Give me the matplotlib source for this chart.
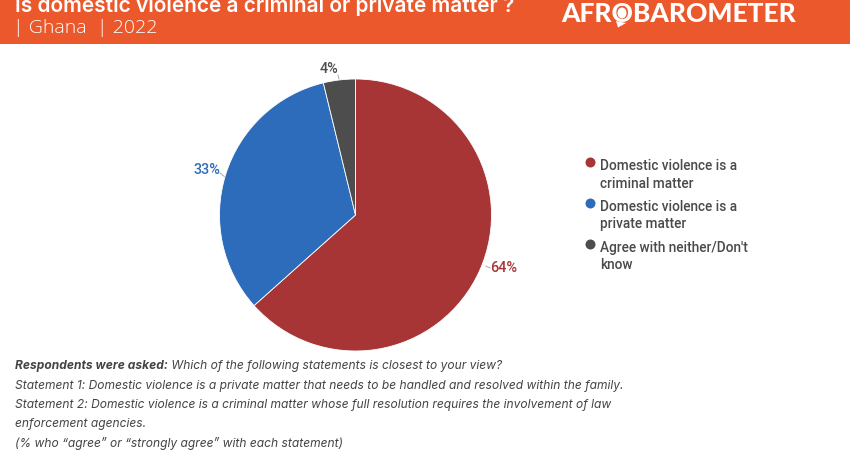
import matplotlib
matplotlib.use("Agg")
import matplotlib.pyplot as plt
from matplotlib.patches import Rectangle, Polygon, Ellipse

categories = ["Domestic violence is a\ncriminal matter",
              "Domestic violence is a\nprivate matter",
              "Agree with neither/Don't\nknow"]
values = [63.4, 32.8, 3.8]
labels = ["64%", "33%", "4%"]
colors = ["#A73535", "#2D6CBA", "#4D4D4D"]
title = "Is domestic violence a criminal or private matter ?"
subtitle = "| Ghana  | 2022"
brand = "AFROBAROMETER"
notes = ["Statement 1: Domestic violence is a private matter that needs to be handled and resolved within the family.",
         "Statement 2: Domestic violence is a criminal matter whose full resolution requires the involvement of law",
         "enforcement agencies.",
         "(% who “agree” or “strongly agree” with each statement)"]
note_head = "Respondents were asked:"
note_q = " Which of the following statements is closest to your view?"

W, H = 850, 450
fig = plt.figure(figsize=(W/100, H/100), dpi=100, facecolor="white")
bg = fig.add_axes([0, 0, 1, 1])
bg.set_xlim(0, W); bg.set_ylim(H, 0); bg.axis("off")

bg.add_patch(Rectangle((0, 0), W, 44, color="#EB582C", lw=0))
bg.text(15, 11.5, title, color="white", fontsize=15, fontweight="semibold", family="Inter", va="baseline")
bg.text(13.5, 28, subtitle, color="white", fontsize=14, family="Open Sans", fontweight="light", va="center")
bg.text(561, 14, brand, color="white", fontsize=19, fontweight="black", family="Lato", va="center")
# Pin shape of the logo's O
bg.add_patch(Polygon([(616, 21), (626, 23), (618, 27.5)], closed=True, color="white", lw=0))
bg.add_patch(Ellipse((622, 13), 9, 11, color="white", lw=0))

cx, cy, r = 355.5, 215, 136
ax = fig.add_axes([(cx-r-4)/W, 1-(cy+r+4)/H, (2*r+8)/W, (2*r+8)/H])
wedges, _ = ax.pie(values, colors=colors, startangle=90, counterclock=False, radius=1,
                   wedgeprops=dict(edgecolor="white", linewidth=0.6))
k = (r+4)/r
ax.set_xlim(-k, k); ax.set_ylim(-k, k); ax.set_aspect("equal")

label_pos = [(490, 268, "left"), (220, 169.5, "right"), (338, 69, "right")]
leaders = [((486, 266), (490, 268)), ((225, 177), (220, 173)), ((339, 79), (338, 75))]
for lab, c, (x, y, ha), (p, q) in zip(labels, colors, label_pos, leaders):
    bg.text(x, y, lab, color=c, fontsize=10.4, family="Roboto", fontweight="medium", ha=ha, va="center")
    bg.plot([p[0], q[0]], [p[1], q[1]], color="#AAAAAA", lw=0.7, zorder=5)

ly = [162, 203, 244]
ty = [175, 215.5, 256.5]
for c, cat, y, t in zip(colors, categories, ly, ty):
    bg.plot([590], [y], "o", color=c, ms=7.2, mew=0)
    bg.text(600, t, cat, color="#4A4A4A", fontsize=9.85, family="Roboto", fontweight="medium",
            va="center", linespacing=1.3)

note_kw = dict(fontsize=8.65, family="Inter", style="italic", color="#444444", va="center")
h = bg.text(15, 366, note_head, fontweight="bold", **note_kw)
fig.canvas.draw()
bb = h.get_window_extent()
bg.text(bb.x1, 366, note_q, **note_kw)
for y, line in zip([385.5, 405, 424, 443], notes):
    bg.text(15, y, line, **note_kw)

fig.savefig("out.png", dpi=100)
